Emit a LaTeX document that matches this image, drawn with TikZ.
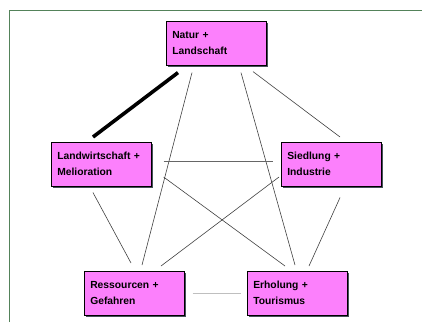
\documentclass[tikz,border=0pt]{standalone}
\usepackage{fontspec}
\setmainfont{Liberation Sans}
\usetikzlibrary{calc}
\definecolor{boxpink}{RGB}{252,128,252}
\definecolor{framegreen}{RGB}{84,130,90}
\definecolor{shadowgray}{RGB}{70,80,90}
\tikzset{
  topic/.style={draw=black, line width=0.6pt, fill=boxpink, minimum width=100pt, minimum height=44pt,
    align=left, anchor=north west, inner sep=0pt, text width=88pt, font=\bfseries\fontsize{10.3}{16}\selectfont},
  shadowbox/.style={fill=shadowgray, draw=none, minimum width=100pt, minimum height=44pt, anchor=north west, inner sep=0pt},
  link/.style={draw=black!75, line width=0.6pt},
  thicklink/.style={draw=black, line width=3.6pt},
  faintlink/.style={draw=black!25, line width=0.7pt}
}
\begin{document}
\begin{tikzpicture}[x=1pt,y=-1pt]
\useasboundingbox (0,0) rectangle (422,322);
% frame
\draw[framegreen, line width=1.2pt] (9.5,322) -- (9.5,10.5) -- (422,10.5);
% shadows
\node[shadowbox] at (168,23) {};
\node[shadowbox] at (53,144) {};
\node[shadowbox] at (283,144) {};
\node[shadowbox] at (86,273) {};
\node[shadowbox] at (249,273) {};
% boxes
\node[topic] (nat) at (166,21) {Natur +\\Landschaft};
\node[topic] (lw) at (51,142) {Landwirtschaft +\\Melioration};
\node[topic] (sied) at (281,142) {Siedlung +\\Industrie};
\node[topic] (res) at (84,271) {Ressourcen +\\Gefahren};
\node[topic] (erh) at (247,271) {Erholung +\\Tourismus};
% connectors
\draw[thicklink] ([xshift=12pt,yshift=-7pt]nat.south west) -- ([xshift=42pt,yshift=5pt]lw.north west);
\draw[link] ([xshift=26pt,yshift=-7pt]nat.south west) -- ([xshift=58pt,yshift=6pt]res.north west);
\draw[link] ([xshift=75pt,yshift=-7pt]nat.south west) -- ([xshift=48pt,yshift=6pt]erh.north west);
\draw[link] ([xshift=87pt,yshift=-6pt]nat.south west) -- ([xshift=59pt,yshift=5pt]sied.north west);
\draw[link, draw=black!60] ([xshift=12pt,yshift=-19pt]lw.north east) -- ([xshift=-8pt,yshift=-19pt]sied.north west);
\draw[link] ([xshift=12pt,yshift=-35pt]lw.north east) -- ([xshift=38pt,yshift=5pt]erh.north west);
\draw[link] ([xshift=-2pt,yshift=-35pt]sied.north west) -- ([xshift=77pt,yshift=5pt]res.north west);
\draw[link] ([xshift=42pt,yshift=-6pt]lw.south west) -- ([xshift=47pt,yshift=8pt]res.north west);
\draw[link] ([xshift=59pt,yshift=-11pt]sied.south west) -- ([xshift=62pt,yshift=5pt]erh.north west);
\draw[faintlink] ([xshift=8pt,yshift=-22pt]res.north east) -- ([xshift=-6pt,yshift=-22pt]erh.north west);
\end{tikzpicture}
\end{document}
